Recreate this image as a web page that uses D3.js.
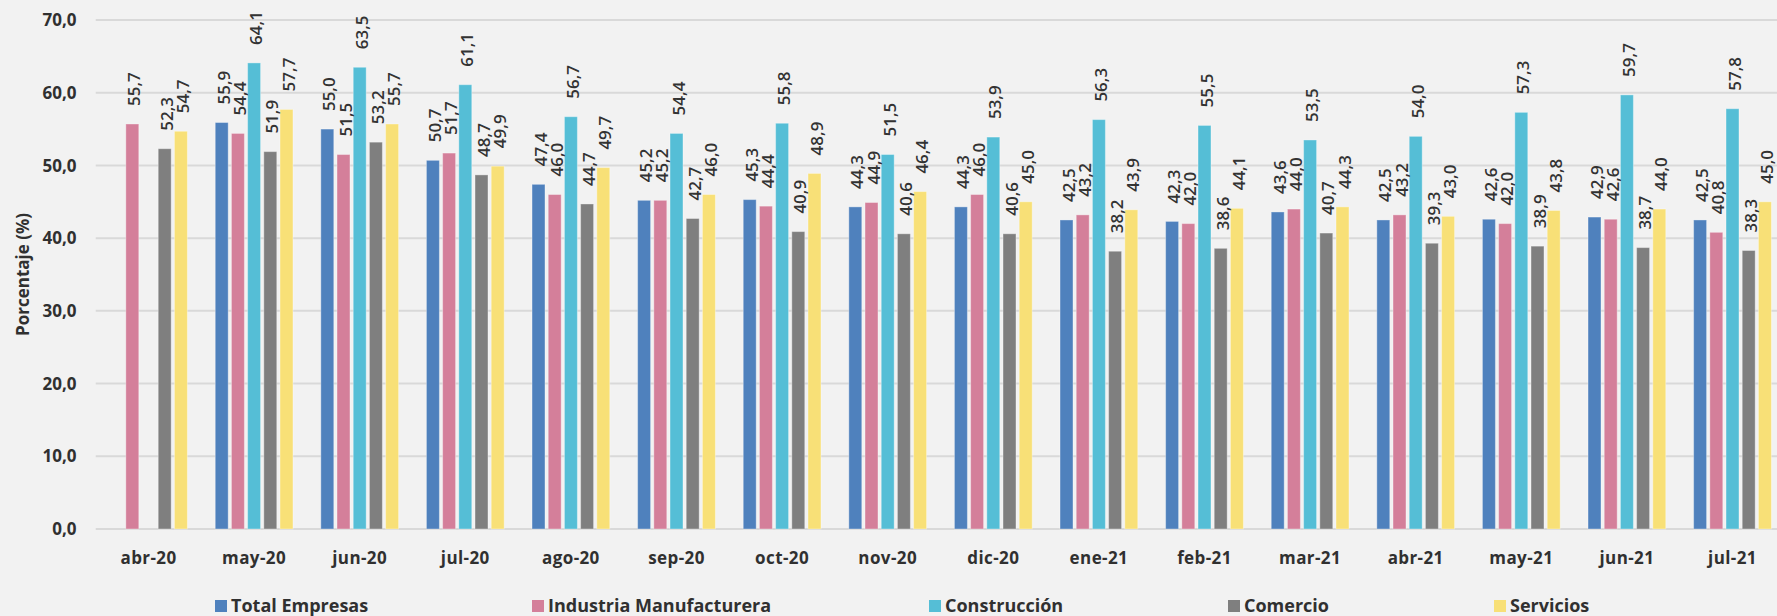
<!DOCTYPE html>
<html>
<head>
<meta charset="utf-8">
<script src="https://cdn.jsdelivr.net/npm/d3@7"></script>
<style>
  html, body { margin: 0; padding: 0; background: #F2F2F2; overflow: hidden; }
  svg { display: block; font-family: "Open Sans", "Noto Sans", sans-serif; }
</style>
</head>
<body>
<svg id="chart" width="1777" height="616"></svg>
<script>
const categories = ["abr-20","may-20","jun-20","jul-20","ago-20","sep-20","oct-20","nov-20","dic-20","ene-21","feb-21","mar-21","abr-21","may-21","jun-21","jul-21"];
const seriesNames = ["Total Empresas","Industria Manufacturera","Construcción","Comercio","Servicios"];
const totalEmpresas = [null,55.9,55.0,50.7,47.4,45.2,45.3,44.3,44.3,42.5,42.3,43.6,42.5,42.6,42.9,42.5];
const industria     = [55.7,54.4,51.5,51.7,46.0,45.2,44.4,44.9,46.0,43.2,42.0,44.0,43.2,42.0,42.6,40.8];
const construccion  = [null,64.1,63.5,61.1,56.7,54.4,55.8,51.5,53.9,56.3,55.5,53.5,54.0,57.3,59.7,57.8];
const comercio      = [52.3,51.9,53.2,48.7,44.7,42.7,40.9,40.6,40.6,38.2,38.6,40.7,39.3,38.9,38.7,38.3];
const servicios     = [54.7,57.7,55.7,49.9,49.7,46.0,48.9,46.4,45.0,43.9,44.1,44.3,43.0,43.8,44.0,45.0];
const yTicks = [0,10,20,30,40,50,60,70];

const seriesValues = [totalEmpresas, industria, construccion, comercio, servicios];
const colors = ["#4F81BD","#D47F9A","#55BED6","#7F7F7F","#F8E077"];
const legendX = [215, 532, 929, 1228, 1494];

const svg = d3.select("#chart");
const fmt = v => d3.format(".1f")(v).replace(".", ",");

const x0 = d3.scaleBand().domain(categories).range([95.7, 1785.3]).paddingInner(0).paddingOuter(0);
const x1 = d3.scaleBand().domain(seriesNames).range([0, x0.bandwidth()]).paddingInner(0.2).paddingOuter(0.86);
const y = d3.scaleLinear().domain([0, 70]).range([529, 20]);

// gridlines
svg.append("g").selectAll("line").data(yTicks).join("line")
  .attr("x1", 95.7).attr("x2", 1785.3)
  .attr("y1", d => y(d)).attr("y2", d => y(d))
  .attr("stroke", "#D9D9D9").attr("stroke-width", 2);

// y tick labels
svg.append("g").selectAll("text").data(yTicks).join("text")
  .attr("x", 76.5).attr("y", d => y(d)).attr("dy", "0.36em")
  .attr("text-anchor", "end")
  .attr("font-size", 17).attr("font-weight", 700).attr("fill", "#303030")
  .text(d => fmt(d));

// y axis title
svg.append("text")
  .attr("transform", `translate(28.5,${(y(0)+y(70))/2}) rotate(-90)`)
  .attr("text-anchor", "middle")
  .attr("font-size", 17).attr("font-weight", 700).attr("fill", "#303030")
  .text("Porcentaje (%)");

// x labels
svg.append("g").selectAll("text").data(categories).join("text")
  .attr("x", d => x0(d) + x0.bandwidth()/2).attr("y", 558).attr("dy", "0.36em")
  .attr("text-anchor", "middle")
  .attr("font-size", 17).attr("font-weight", 700).attr("fill", "#303030")
  .attr("letter-spacing", "0.4")
  .text(d => d);

// bars
const flat = [];
categories.forEach((c, i) => {
  seriesNames.forEach((s, j) => {
    const v = seriesValues[j][i];
    if (v !== null) flat.push({c, s, v, j});
  });
});

const barG = svg.append("g");
barG.selectAll("rect").data(flat).join("rect")
  .attr("x", d => x0(d.c) + x1(d.s))
  .attr("y", d => y(d.v))
  .attr("width", x1.bandwidth())
  .attr("height", d => y(0) - y(d.v))
  .attr("fill", d => colors[d.j])
  .attr("stroke", "rgba(255,255,255,0.35)")
  .attr("stroke-width", 1);

// value labels
svg.append("g").selectAll("text").data(flat).join("text")
  .attr("transform", d => `translate(${x0(d.c) + x1(d.s) + x1.bandwidth()/2 + 2},${y(d.v) - 18}) rotate(-90)`)
  .attr("dy", "0.36em")
  .attr("text-anchor", "start")
  .attr("font-size", 17).attr("font-weight", 600).attr("fill", "#333333")
  .text(d => fmt(d.v));

// legend
const leg = svg.append("g").selectAll("g").data(seriesNames).join("g")
  .attr("transform", (d, i) => `translate(${legendX[i]},600)`);
leg.append("rect").attr("width", 12).attr("height", 12).attr("fill", (d, i) => colors[i]);
leg.append("text").attr("x", 16).attr("y", 6).attr("dy", "0.36em")
  .attr("font-size", 18).attr("font-weight", 700).attr("fill", "#303030")
  .text(d => d);
</script>
</body>
</html>
